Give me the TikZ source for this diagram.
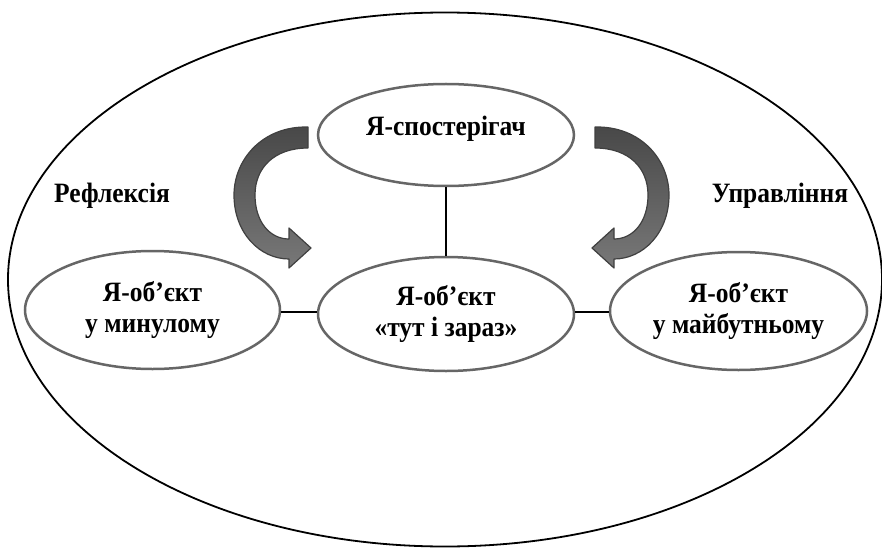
\documentclass[tikz,border=0pt]{standalone}
\usepackage{fontspec}
\setmainfont{Liberation Serif}
\newfontfamily\diagfont[FakeStretch=0.91]{Liberation Serif}
\usetikzlibrary{shapes.geometric}
\definecolor{ringgray}{HTML}{666666}
\definecolor{arrowdark}{HTML}{484848}
\definecolor{arrowlight}{HTML}{787878}
\tikzset{
  lbl/.style={font=\diagfont\fontsize{28}{31}\selectfont\bfseries, align=center, inner sep=0pt},
  obj/.style={ellipse, draw=ringgray, line width=2.5pt, fill=white, inner sep=0pt,
              font=\diagfont\fontsize{28}{31}\selectfont\bfseries, align=center},
  link/.style={draw=black, line width=2.8pt},
  curvedarrow/.style={top color=arrowdark, bottom color=arrowlight, draw=black!75, line width=1.2pt, line join=round}
}
\begin{document}
\begin{tikzpicture}[x=1pt,y=-1pt]
\useasboundingbox (0,0) rectangle (882,548);
\node[ellipse, draw=black, line width=1.8pt, minimum width=874pt, minimum height=534pt, inner sep=0pt] (outer) at (445,279.5) {};
% nodes
\node[obj, minimum width=256pt, minimum height=102pt] (obs) at (446,135) {};
\node[lbl] (obst) at (446,129) {Я-спостерігач};
\node[obj, minimum width=255pt, minimum height=118pt] (past) at (152.5,310) {Я-об’єкт\\у минулому};
\node[obj, minimum width=256pt, minimum height=114pt] (now) at (446,314) {Я-об’єкт\\«тут і зараз»};
\node[obj, minimum width=257pt, minimum height=118pt] (fut) at (738.5,311) {Я-об’єкт\\у майбутньому};
\node[lbl] (refl) at (112,196) {Рефлексія};
\node[lbl] (upr) at (780,196) {Управління};
% connectors
\draw[link] (obs.south) -- (now.north);
\draw[link] (past.east |- 0,312) -- (now.west |- 0,312);
\draw[link] (now.east |- 0,312) -- (fut.west |- 0,312);
% curved arrows
\path[curvedarrow] (308,127) .. controls (262,126) and (234,160) .. (234,195)
  .. controls (234,233) and (260,259) .. (289,259)
  -- (289,268) -- (311,248) -- (289,228) -- (289,239)
  .. controls (270,239) and (255,222) .. (255,195)
  .. controls (255,168) and (274,148) .. (308,148) -- cycle;
\begin{scope}[xshift=903pt, xscale=-1]
\path[curvedarrow] (308,127) .. controls (262,126) and (234,160) .. (234,195)
  .. controls (234,233) and (260,259) .. (289,259)
  -- (289,268) -- (311,248) -- (289,228) -- (289,239)
  .. controls (270,239) and (255,222) .. (255,195)
  .. controls (255,168) and (274,148) .. (308,148) -- cycle;
\end{scope}
\end{tikzpicture}
\end{document}
